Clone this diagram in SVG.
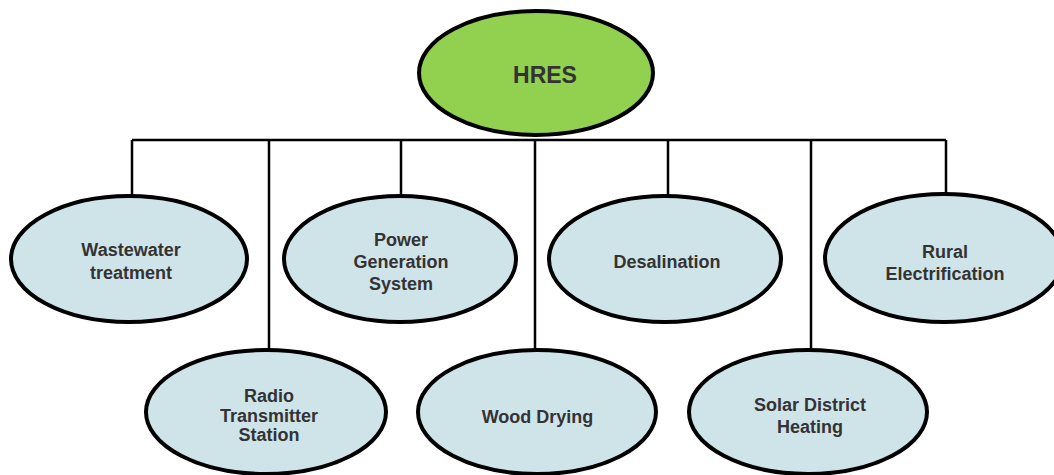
<svg xmlns="http://www.w3.org/2000/svg" width="1054" height="475" viewBox="0 0 1054 475">
<style>
.n{fill:#cfe4e9;stroke:#000;stroke-width:4}
.root{fill:#92d050;stroke:#000;stroke-width:4}
.c{stroke:#000;stroke-width:2.5;fill:none}
text{font-family:"Liberation Sans",Arial,sans-serif;font-weight:bold;font-size:18px;fill:#333;text-anchor:middle}
</style>
<rect width="1054" height="475" fill="#fff"/>
<g id="connectors">
<path class="c" d="M132,140H946M132,140V196M269,140V350M401,140V196M535,140V350M668,140V196M811,140V350M946,140V193"/>
</g>
<g id="hres"><ellipse class="root" cx="536" cy="73" rx="117" ry="62"/><text x="545" y="83" style="font-size:23px">HRES</text></g>
<g id="wastewater"><ellipse class="n" cx="129" cy="259" rx="118" ry="63"/><text x="131" y="256">Wastewater</text><text x="131" y="279">treatment</text></g>
<g id="power"><ellipse class="n" cx="400" cy="259" rx="116" ry="63"/><text x="401" y="245.5">Power</text><text x="401" y="267.5">Generation</text><text x="401" y="289.5">System</text></g>
<g id="desalination"><ellipse class="n" cx="665" cy="259" rx="116" ry="63"/><text x="667" y="267.5">Desalination</text></g>
<g id="rural"><ellipse class="n" cx="944" cy="258" rx="119" ry="64"/><text x="945" y="258">Rural</text><text x="945" y="279.5">Electrification</text></g>
<g id="radio"><ellipse class="n" cx="266" cy="412" rx="120" ry="62"/><text x="269" y="402">Radio</text><text x="269" y="422">Transmitter</text><text x="269" y="441">Station</text></g>
<g id="wood"><ellipse class="n" cx="537" cy="412" rx="119" ry="62"/><text x="537.5" y="423">Wood Drying</text></g>
<g id="solar"><ellipse class="n" cx="808" cy="412" rx="119" ry="62"/><text x="810" y="411">Solar District</text><text x="810" y="433">Heating</text></g>
</svg>
